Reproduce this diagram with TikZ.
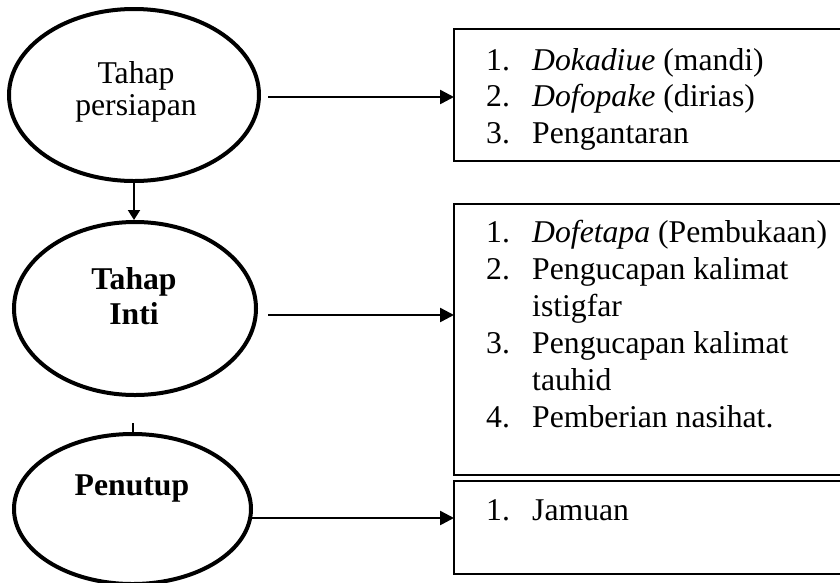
\documentclass[tikz,border=0pt]{standalone}
\usepackage{fontspec}
\setmainfont{Liberation Serif}
\usetikzlibrary{arrows.meta,shapes.geometric}
\newcommand{\numbox}[1]{\makebox[46pt][l]{#1}}
\begin{document}
\begin{tikzpicture}[x=1pt,y=-1pt,
  ell/.style={draw, ellipse, line width=4pt, inner sep=0pt},
  lbl/.style={anchor=base, inner sep=0pt, font=\fontsize{31.7}{32}\selectfont},
  lblb/.style={anchor=base, inner sep=0pt, font=\fontsize{31.7}{32}\selectfont\bfseries},
  boxr/.style={draw, rectangle, line width=2pt, inner sep=0pt, outer sep=0pt, anchor=north west},
  item/.style={anchor=base west, inner sep=0pt, font=\fontsize{31.7}{36.8}\selectfont},
  arr/.style={line width=2.5pt, -{Triangle[length=14pt,width=14pt]}},
  darr/.style={line width=2pt, -{Triangle[length=10pt,width=12pt]}},
  tick/.style={line width=2pt}
  ]
\useasboundingbox (0,0) rectangle (840,582);
\clip (0,0) rectangle (840,582);
% ellipses
\node[ell, minimum width=250pt, minimum height=172pt] (e1) at (134,95) {};
\node[ell, minimum width=242pt, minimum height=173pt] (e2) at (135,308.5) {};
\node[ell, minimum width=237pt, minimum height=150pt] (e3) at (132.5,509) {};
\node[lbl] (t1a) at (136,83) {Tahap};
\node[lbl] (t1b) at (136,115) {persiapan};
\node[lblb] (t2a) at (134,289) {Tahap};
\node[lblb] (t2b) at (134,324) {Inti};
\node[lblb] (t3) at (132,495) {Penutup};
% boxes
\node[boxr, minimum width=406pt, minimum height=132pt] (b1) at (454,29) {};
\node[boxr, minimum width=406pt, minimum height=271pt] (b2) at (454,204) {};
\node[boxr, minimum width=406pt, minimum height=93pt] (b3) at (454,481) {};
% box texts
\node[item] (i11) at (486,70) {\numbox{1.}\textit{Dokadiue} (mandi)};
\node[item] (i12) at (486,106.5) {\numbox{2.}\textit{Dofopake} (dirias)};
\node[item] (i13) at (486,143) {\numbox{3.}Pengantaran};
\node[item] (i21) at (486,242) {\numbox{1.}\textit{Dofetapa} (Pembukaan)};
\node[item] (i22) at (486,279) {\numbox{2.}Pengucapan kalimat};
\node[item] (i22b) at (532,316) {istigfar};
\node[item] (i23) at (486,353) {\numbox{3.}Pengucapan kalimat};
\node[item] (i23b) at (532,390) {tauhid};
\node[item] (i24) at (486,427) {\numbox{4.}Pemberian nasihat.};
\node[item] (i31) at (486,520) {\numbox{1.}Jamuan};
% connectors
\coordinate (s1) at (268,97);
\coordinate (s2) at (268,315);
\coordinate (s3) at (252,518);
\draw[arr] (s1) -- (s1 -| b1.west);
\draw[arr] (s2) -- (s2 -| b2.west);
\draw[arr] (s3) -- (s3 -| b3.west);
\draw[darr] (e1.south) -- (e1.south |- e2.north);
\coordinate (c23) at (133,423);
\draw[tick] (c23) -- (c23 |- e3.north);
\end{tikzpicture}
\end{document}
